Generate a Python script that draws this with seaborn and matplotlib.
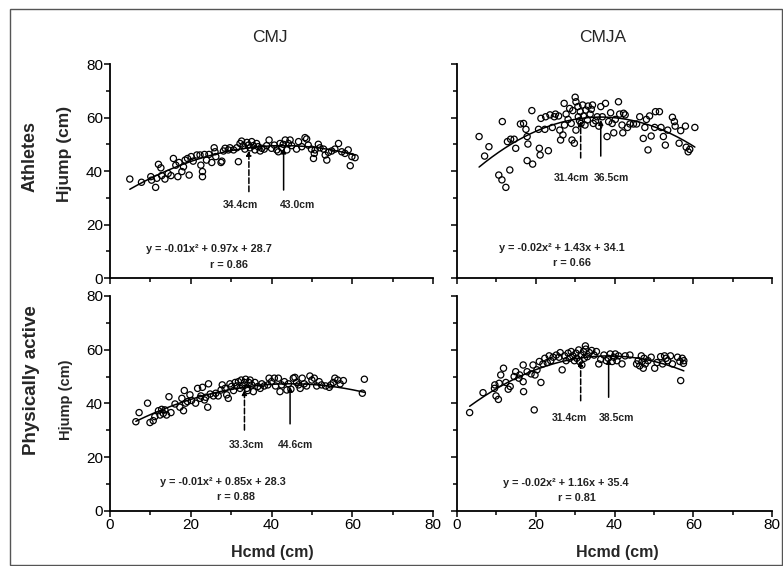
import numpy as np
import matplotlib
matplotlib.use("Agg")
import matplotlib.pyplot as plt
import matplotlib.patches as patches
from matplotlib.ticker import MultipleLocator
import seaborn as sns

# Athletes - CMJ
ath_cmj_x = [4.9, 7.8, 10.1, 10.3, 11.3, 11.6, 12.0, 12.6, 12.8, 13.6, 14.4, 15.1, 15.7, 16.3, 16.8,
             17.1, 17.8, 18.2, 18.6, 19.2, 19.6, 20.1, 20.6, 21.5, 22.3, 22.5, 22.9, 22.9, 23.4, 23.9,
             24.5, 25.2, 25.8, 26.0, 26.2, 27.5, 27.7, 28.1, 28.5, 29.3, 29.7, 30.6, 31.4, 31.8, 32.2,
             32.6, 33.0, 33.4, 33.9, 34.3, 34.7, 35.1, 35.5, 35.9, 36.3, 36.7, 37.2, 37.6, 38.2, 38.8,
             39.4, 40.0, 40.7, 41.3, 41.7, 42.1, 42.5, 42.9, 43.4, 43.8, 44.2, 44.6, 45.0, 46.2, 46.7,
             47.5, 48.3, 48.7, 49.1, 49.9, 50.4, 50.6, 50.8, 51.6, 52.0, 52.9, 53.3, 53.7, 54.1, 54.9,
             55.7, 56.6, 57.4, 58.2, 59.0, 59.5, 59.9, 60.7]
ath_cmj_y = [37.0, 35.8, 37.9, 36.6, 33.9, 37.3, 42.5, 41.2, 38.3, 37.0, 39.1, 38.3, 44.7, 42.2, 37.9,
             43.2, 39.8, 41.6, 44.1, 44.7, 38.5, 45.4, 43.7, 46.0, 46.0, 42.2, 39.8, 37.9, 46.2, 44.1,
             46.2, 43.2, 48.7, 47.2, 45.4, 43.2, 43.7, 47.5, 48.5, 47.9, 48.7, 47.9, 48.7, 43.5, 50.3,
             51.2, 49.5, 48.2, 50.7, 49.7, 48.7, 51.0, 49.5, 47.9, 50.3, 49.1, 47.5, 48.5, 48.2, 49.5,
             51.6, 48.5, 49.7, 47.9, 47.2, 50.3, 48.7, 50.0, 51.6, 47.9, 50.3, 51.6, 49.5, 48.2, 51.0,
             49.1, 52.5, 52.0, 49.7, 48.2, 44.7, 46.6, 47.9, 50.0, 48.7, 48.2, 46.0, 44.1, 47.0, 47.5,
             48.2, 50.3, 47.2, 46.6, 47.9, 42.0, 45.4, 45.0]

# Athletes - CMJA
ath_cmja_x = [5.6, 7.0, 8.1, 10.6, 11.4, 12.4, 11.5, 13.4, 12.8, 13.6, 14.5, 14.9, 16.1, 16.9, 17.5,
              17.8, 18.0, 17.8, 19.0, 19.2, 20.7, 20.9, 21.1, 21.3, 22.3, 22.5, 23.2, 23.6, 24.2, 24.7,
              25.0, 25.8, 26.3, 26.1, 26.9, 27.2, 27.3, 27.7, 28.2, 28.6, 29.0, 29.2, 29.4, 29.8, 30.0,
              30.2, 30.2, 30.7, 30.8, 31.1, 31.3, 31.5, 31.9, 32.1, 32.5, 32.7, 33.1, 33.3, 33.8, 34.1,
              34.4, 34.6, 35.2, 35.6, 36.0, 36.5, 36.9, 37.7, 38.1, 38.5, 39.0, 39.4, 39.8, 40.2, 41.0,
              41.3, 41.9, 42.3, 42.7, 42.1, 43.3, 43.9, 44.8, 45.6, 46.4, 47.3, 47.7, 48.1, 48.5, 48.9,
              49.3, 50.2, 50.4, 51.4, 51.8, 52.4, 52.9, 53.5, 54.7, 55.2, 55.4, 56.4, 56.8, 58.0, 58.2,
              58.7, 59.1, 60.4]
ath_cmja_y = [52.9, 45.6, 49.1, 38.5, 36.7, 33.9, 58.5, 40.4, 51.0, 51.9, 51.9, 48.5, 57.6, 57.8, 55.6,
              52.9, 50.1, 43.9, 62.6, 42.6, 55.6, 48.5, 46.0, 59.7, 55.6, 60.3, 47.6, 61.0, 56.3, 60.3,
              61.3, 60.6, 51.6, 55.3, 53.5, 65.3, 57.2, 61.3, 59.3, 63.4, 57.8, 51.6, 62.6, 50.4, 67.6,
              65.9, 55.3, 64.1, 60.3, 58.8, 62.2, 57.8, 64.7, 60.6, 57.2, 62.8, 59.1, 64.3, 61.3, 63.1,
              64.7, 57.8, 58.8, 60.3, 56.8, 64.1, 60.3, 65.3, 52.9, 58.5, 61.8, 57.8, 54.3, 59.3, 65.9,
              61.3, 57.2, 61.6, 61.0, 54.3, 56.3, 57.6, 57.6, 57.6, 60.3, 52.2, 56.3, 59.3, 47.9, 60.6,
              53.1, 56.3, 62.2, 62.2, 56.3, 52.9, 49.7, 55.3, 60.1, 58.5, 56.8, 50.4, 55.1, 56.8, 48.9,
              47.2, 48.1, 56.3]

# Physically active - CMJ
pa_cmj_x = [6.4, 7.2, 9.3, 9.9, 10.7, 11.1, 12.0, 12.4, 12.8, 13.2, 13.6, 14.0, 14.6, 15.1, 16.1,
            17.3, 17.8, 18.2, 18.4, 18.7, 19.2, 19.8, 20.2, 21.2, 21.7, 22.3, 22.5, 22.9, 23.4, 23.7,
            24.2, 24.4, 24.8, 25.6, 26.2, 26.8, 27.5, 27.8, 28.5, 28.9, 29.3, 29.7, 30.1, 30.6, 31.0,
            31.4, 31.8, 32.2, 32.5, 32.8, 33.3, 33.6, 33.9, 34.1, 34.4, 34.7, 35.1, 35.5, 35.9, 36.6,
            37.2, 37.6, 38.2, 39.1, 39.4, 40.0, 40.7, 41.0, 41.7, 42.1, 42.5, 43.2, 43.8, 44.2, 44.8,
            45.4, 45.8, 46.2, 46.7, 47.1, 47.6, 48.1, 48.7, 49.5, 50.0, 50.6, 51.2, 51.8, 52.4, 53.4,
            54.3, 54.7, 55.3, 55.7, 56.4, 57.0, 57.8, 62.5, 63.0]
pa_cmj_y = [33.2, 36.6, 40.1, 32.9, 33.6, 35.1, 37.3, 35.7, 37.8, 36.3, 37.6, 35.7, 42.5, 36.6, 39.8,
            38.6, 41.9, 37.3, 44.8, 40.1, 40.7, 43.2, 41.1, 40.1, 45.6, 41.9, 42.8, 46.0, 41.3, 42.3,
            38.6, 47.3, 43.5, 42.8, 43.8, 42.8, 45.0, 46.9, 45.6, 43.2, 41.9, 47.3, 46.3, 44.8, 47.8,
            46.5, 48.1, 45.6, 48.7, 46.5, 47.8, 49.0, 45.6, 44.8, 47.8, 48.7, 46.9, 44.4, 47.8, 46.3,
            45.6, 47.3, 46.5, 46.9, 49.4, 48.1, 49.4, 46.5, 49.4, 44.4, 46.9, 48.1, 45.0, 47.3, 45.3,
            49.4, 49.7, 47.8, 46.9, 45.6, 49.4, 47.3, 46.5, 50.2, 48.7, 49.4, 46.5, 48.1, 46.9, 46.5,
            46.0, 46.9, 47.8, 49.4, 48.7, 47.3, 48.5, 43.8, 49.0]

# Physically active - CMJA
pa_cmja_x = [3.2, 6.6, 9.5, 9.9, 10.5, 9.6, 10.7, 11.1, 11.8, 12.4, 13.0, 13.5, 14.5, 14.9, 15.7,
             15.9, 16.8, 16.8, 16.9, 17.8, 18.8, 19.3, 19.8, 19.6, 20.3, 20.9, 21.3, 21.8, 22.3, 22.9,
             23.4, 23.8, 24.4, 25.2, 25.9, 26.2, 26.7, 27.3, 27.7, 28.2, 28.6, 29.0, 29.4, 29.8, 30.2,
             30.4, 30.9, 31.1, 31.5, 31.7, 32.1, 32.3, 32.6, 32.7, 33.1, 33.6, 34.2, 34.8, 35.4, 36.0,
             36.5, 37.3, 37.9, 38.4, 38.9, 39.4, 39.8, 40.2, 40.6, 41.0, 41.9, 42.7, 43.9, 45.6, 46.0,
             46.4, 46.8, 47.0, 47.3, 47.5, 47.8, 48.5, 49.3, 50.2, 50.8, 51.7, 52.2, 52.7, 53.1, 53.5,
             54.2, 54.7, 56.0, 56.6, 56.8, 57.2, 57.5, 57.6]
pa_cmja_y = [36.6, 44.0, 45.6, 42.8, 41.5, 46.9, 47.5, 50.6, 53.1, 47.8, 45.3, 46.3, 50.0, 51.8, 49.4,
             50.6, 54.3, 48.1, 44.4, 51.8, 51.0, 54.3, 50.6, 37.6, 52.5, 55.6, 47.8, 54.7, 56.8, 55.2,
             57.7, 55.9, 57.2, 58.0, 57.2, 58.9, 52.5, 57.7, 55.9, 58.7, 56.8, 59.3, 57.7, 55.9, 58.7,
             56.8, 59.9, 55.6, 58.0, 54.3, 59.3, 56.8, 61.4, 60.2, 57.4, 58.9, 59.7, 58.0, 59.3, 54.7,
             56.4, 58.0, 55.9, 56.8, 58.4, 55.6, 57.2, 58.4, 55.9, 57.7, 54.7, 57.7, 58.0, 54.7, 55.9,
             54.0, 57.7, 55.6, 53.1, 56.8, 54.7, 55.9, 57.2, 53.1, 55.2, 57.4, 54.7, 57.7, 56.8, 55.9,
             57.7, 54.7, 57.2, 55.6, 48.5, 56.8, 54.9, 55.9]

panel_x = [ath_cmj_x, ath_cmja_x, pa_cmj_x, pa_cmja_x]
panel_y = [ath_cmj_y, ath_cmja_y, pa_cmj_y, pa_cmja_y]

# quadratic fit y = a*x^2 + b*x + c
fit_a = [-0.0113, -0.0196, -0.0095, -0.0151]
fit_b = [0.97, 1.43, 0.85, 1.16]
fit_c = [28.7, 34.1, 28.3, 35.4]
eq_text = ["y = -0.01x² + 0.97x + 28.7", "y = -0.02x² + 1.43x + 34.1",
           "y = -0.01x² + 0.85x + 28.3", "y = -0.02x² + 1.16x + 35.4"]
r_text = ["r = 0.86", "r = 0.66", "r = 0.88", "r = 0.81"]

x_dash = [34.4, 31.4, 33.3, 31.4]
x_opt = [43.0, 36.5, 44.6, 38.5]

# layout helpers (positions only)
line_bottom = [(32.3, 32.9), (44.9, 45.6), (30.1, 32.4), (41.0, 42.3)]
label_y = [27.3, 37.4, 24.6, 34.6]
label_dx = [(9, -4), (8, -7), (20, -12), (6, -10)]
eq_pos = [(24.6, 10.8), (26.7, 11.2), (28.0, 10.9), (27.5, 10.5)]
r_pos = [(29.4, 4.9), (29.2, 5.6), (31.3, 5.1), (30.5, 4.7)]

sns.set_theme(style="ticks")
plt.rcParams['font.family'] = ['Liberation Sans', 'DejaVu Sans']

fig = plt.figure(figsize=(7.83, 5.66), dpi=100)
rects = [(0.1405, 0.5088, 0.4125, 0.378), (0.5837, 0.5088, 0.4023, 0.378),
         (0.1405, 0.0972, 0.4125, 0.38), (0.5837, 0.0972, 0.4023, 0.38)]

for i, r in enumerate(rects):
    ax = fig.add_axes(r)
    xs = panel_x[i]
    ys = panel_y[i]
    sns.scatterplot(x=xs, y=ys, ax=ax, marker='o', s=20, facecolors='none',
                    edgecolor='black', linewidth=0.9, zorder=3)
    xx = np.linspace(min(xs), max(xs), 200)
    yy = fit_a[i] * xx ** 2 + fit_b[i] * xx + fit_c[i]
    sns.lineplot(x=xx, y=yy, ax=ax, color='black', linewidth=1.1, zorder=4)

    for k, (xv, ls) in enumerate([(x_dash[i], '--'), (x_opt[i], '-')]):
        ytop = fit_a[i] * xv ** 2 + fit_b[i] * xv + fit_c[i] - 1.0
        ax.annotate('', xy=(xv, ytop), xytext=(xv, line_bottom[i][k]),
                    arrowprops=dict(arrowstyle='-|>', color='black', lw=1.1,
                                    linestyle=ls, mutation_scale=7,
                                    shrinkA=0, shrinkB=0), zorder=5)
    ax.annotate(f"{x_dash[i]:.1f}cm", xy=(x_dash[i], label_y[i]),
                xytext=(label_dx[i][0], 0), textcoords='offset pixels',
                ha='right', va='center', fontsize=7.5, fontweight='bold', color='#222222')
    ax.annotate(f"{x_opt[i]:.1f}cm", xy=(x_opt[i], label_y[i]),
                xytext=(label_dx[i][1], 0), textcoords='offset pixels',
                ha='left', va='center', fontsize=7.5, fontweight='bold', color='#222222')
    ax.text(eq_pos[i][0], eq_pos[i][1], eq_text[i], ha='center', va='center',
            fontsize=7.8, fontweight='bold', color='#222222')
    ax.text(r_pos[i][0], r_pos[i][1], r_text[i], ha='center', va='center',
            fontsize=7.8, fontweight='bold', color='#222222')

    ax.set_xlim(0, 80)
    ax.set_ylim(0, 80)
    ax.xaxis.set_major_locator(MultipleLocator(20))
    ax.xaxis.set_minor_locator(MultipleLocator(10))
    ax.yaxis.set_major_locator(MultipleLocator(20))
    ax.yaxis.set_minor_locator(MultipleLocator(10))
    ax.tick_params(which='major', direction='out', length=4, width=1.1,
                   labelsize=11, pad=1, color='black', labelcolor='black')
    ax.tick_params(which='minor', direction='out', length=3, width=1.1, color='black')
    for sp in ['left', 'bottom']:
        ax.spines[sp].set_linewidth(1.3)
        ax.spines[sp].set_color('black')
    sns.despine(ax=ax)
    ax.set_xlabel('')
    ax.set_ylabel('')
    if i < 2:
        ax.tick_params(axis='x', labelbottom=False)
    if i % 2 == 1:
        ax.tick_params(axis='y', labelleft=False)

fig.text(0.345, 0.9346, "CMJ", ha='center', va='center', fontsize=12.5)
fig.text(0.770, 0.9346, "CMJA", ha='center', va='center', fontsize=12.5)
fig.text(0.038, 0.724, "Athletes", rotation=90, ha='center', va='center',
         fontsize=13, fontweight='bold')
fig.text(0.040, 0.329, "Physically active", rotation=90, ha='center', va='center',
         fontsize=13.5, fontweight='bold')
fig.text(0.083, 0.728, "Hjump (cm)", rotation=90, ha='center', va='center',
         fontsize=12.5, fontweight='bold')
fig.text(0.084, 0.294, "Hjump (cm)", rotation=90, ha='center', va='center',
         fontsize=10.5, fontweight='bold')
fig.text(0.3475, 0.023, "Hcmd (cm)", ha='center', va='center', fontsize=11.5, fontweight='bold')
fig.text(0.788, 0.023, "Hcmd (cm)", ha='center', va='center', fontsize=11.5, fontweight='bold')

frame = patches.Rectangle((0.0128, 0.002), 0.986, 0.982, transform=fig.transFigure,
                          fill=False, edgecolor='#555555', linewidth=1.0)
fig.patches.append(frame)

fig.savefig("out.png", dpi=100)
